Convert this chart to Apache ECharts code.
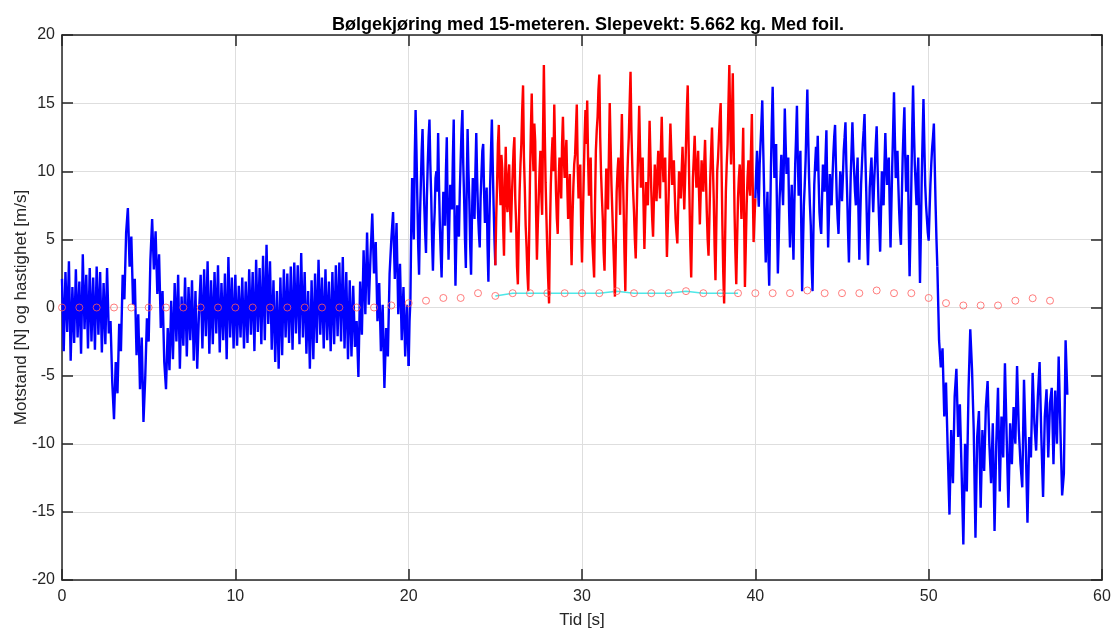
<!DOCTYPE html>
<html>
<head>
<meta charset="utf-8">
<script src="https://cdn.jsdelivr.net/npm/echarts@6/dist/echarts.min.js"></script>
<style>
  html, body { margin: 0; padding: 0; background: #fff; }
  #chart { width: 1113px; height: 631px; }
</style>
</head>
<body>
<div id="chart"></div>
<script>
// sample steps (s)
var slowStep = 0.1;
var fastStep = 0.05;

// motstand t = 0 .. 20 s (0.1 s)
var forceCalm = [
  2.1,-3.2,2.6,-1.8,3.4,-3.9,1.5,-2.6,2.8,-2.2,
  1.9,-3.4,3.9,-1.6,2.4,-3.0,2.9,-2.5,2.2,-3.1,
  3.0,-2.0,2.6,-3.3,1.8,-2.7,2.9,-1.9,-1.0,-5.5,
  -8.2,-4.0,-6.3,-1.2,-3.2,2.4,0.6,5.5,7.3,3.0,
  5.2,0.2,2.1,-3.5,-0.5,-6.0,-2.2,-8.4,-5.2,-0.8,
  -2.5,3.5,6.5,2.8,5.6,1.0,3.9,-1.5,1.2,-4.0,
  -6.0,-1.5,-4.6,0.5,-3.8,1.8,-2.5,2.4,-4.5,0.8,
  -2.8,2.2,-3.6,1.5,-2.4,2.0,-3.9,1.2,-4.5,-0.5,
  2.4,-3.0,2.8,-2.1,3.4,-3.4,2.0,-2.7,2.6,-1.9,
  3.1,-3.3,1.8,-2.4,2.5,-3.8,3.7,-2.2,2.2,-3.0,
  2.4,-2.8,1.6,-2.2,2.2,-3.0,1.9,-2.6,2.8,-2.0,
  2.6,-3.2,3.5,-1.8,2.9,-2.7,3.8,-2.4,4.6,-1.2,
  3.4,-3.1,2.0,-4.0,1.2,-4.5,2.2,-3.5,2.8,-2.2,
  2.5,-2.6,3.0,-3.1,3.3,-1.9,3.1,-2.7,4.0,-2.2,
  2.6,-3.4,1.2,-4.5,2.0,-3.8,2.5,-2.6,3.5,-2.0,
  2.2,-3.0,2.8,-2.4,1.9,-3.2,2.6,-2.7,3.1,-2.1,
  3.3,-2.5,3.7,-3.0,2.6,-3.8,2.0,-3.6,1.6,-2.9,
  -1.0,-5.1,1.9,-2.0,4.2,-0.5,5.5,0.2,3.8,6.9,
  2.5,4.8,-1.0,1.8,-3.2,0.2,-5.9,-1.5,-3.6,2.5,
  5.0,7.0,2.1,6.2,-0.5,3.2,-2.4,1.5,-3.6,0.2,
  -4.3
];

// motstand t = 20 .. 25 s (0.05 s), blue
var forceWaveIn = [
  -4.3,-1.0,0.5,6.0,9.5,7.0,5.0,11.0,14.5,11.5,
  8.0,4.5,2.4,6.5,9.0,11.5,13.1,10.0,7.5,5.5,
  4.0,8.0,10.5,12.5,13.8,10.5,8.2,5.0,2.7,5.5,
  7.0,9.5,10.0,8.5,12.8,9.0,6.0,4.0,2.2,5.5,
  8.5,7.0,6.0,10.0,12.5,7.0,3.5,6.5,9.0,8.0,
  7.2,11.0,13.8,6.0,1.6,5.0,7.5,6.0,5.2,8.5,
  10.8,13.0,14.5,10.5,8.0,5.0,2.9,9.0,13.1,10.0,
  7.8,4.5,2.4,6.5,9.5,8.0,6.5,10.0,12.8,9.5,
  7.0,5.5,4.4,8.0,9.8,11.5,12.0,8.5,6.2,7.5,
  8.8,4.5,1.9,6.0,9.0,11.5,13.8,10.5,7.5,5.0,
  3.1
];

// motstand t = 25 .. 40 s (0.05 s), red
var forceRed = [
  3.1,6.5,9.0,12.0,13.4,9.5,7.5,11.2,10.2,6.0,
  3.8,8.5,11.8,8.0,7.0,9.5,10.5,7.2,5.5,8.0,
  9.8,11.5,12.5,8.0,6.2,3.0,1.7,5.5,8.5,10.5,
  12.0,14.5,16.3,11.0,8.8,6.0,4.5,2.5,1.2,5.0,
  9.5,13.0,15.7,12.0,10.0,13.5,12.2,7.0,3.5,6.0,
  8.0,10.0,11.5,8.5,6.8,12.5,17.8,13.0,9.2,6.5,
  4.0,2.0,0.3,5.5,9.0,11.0,12.5,10.0,14.9,11.5,
  8.5,6.5,5.4,9.0,11.0,9.5,8.0,12.0,14.0,11.0,
  9.5,11.0,12.3,9.0,6.5,8.5,9.8,6.0,3.1,6.5,
  8.8,10.5,11.2,13.0,14.9,10.5,8.0,9.0,10.5,6.0,
  3.3,6.5,9.5,12.5,14.5,12.0,15.2,11.0,8.2,9.5,
  11.0,7.0,4.8,3.5,2.2,7.5,11.5,13.0,14.0,16.0,
  17.1,12.5,9.8,8.0,6.5,4.0,2.7,7.0,10.2,8.5,
  7.2,11.0,15.0,12.0,9.0,7.0,5.0,3.0,0.8,4.5,
  8.5,10.0,11.0,9.0,6.8,11.0,14.2,10.5,7.5,4.0,
  1.2,5.5,9.0,11.0,12.5,15.0,17.3,13.0,10.5,8.5,
  7.0,5.0,3.6,6.5,9.5,12.0,14.8,11.5,8.8,10.0,
  11.0,7.5,4.3,7.0,9.2,8.0,7.5,10.5,13.7,11.0,
  8.5,6.5,5.2,8.0,10.5,9.0,7.8,10.0,11.5,9.5,
  8.0,11.5,14.0,11.0,9.2,10.5,11.0,7.0,3.7,6.0,
  8.2,11.0,13.5,11.5,9.0,10.0,10.8,8.5,6.5,5.5,
  4.7,7.5,10.0,9.0,8.0,10.0,11.8,9.5,7.2,9.5,
  12.0,14.5,16.3,12.0,8.0,4.5,2.2,6.0,9.5,11.0,
  12.6,10.5,8.8,10.0,11.5,8.5,6.1,8.5,10.8,9.5,
  8.5,10.5,12.3,9.5,7.0,5.0,3.8,6.5,9.5,11.5,
  13.2,10.5,8.0,4.5,2.0,6.0,10.0,11.0,12.5,14.0,
  15.0,10.5,6.0,2.5,0.3,4.5,8.5,10.5,12.0,15.0,
  17.8,13.5,10.5,14.0,17.2,12.0,7.0,4.0,1.7,5.0,
  8.0,9.5,10.5,8.5,6.5,10.0,13.2,7.0,1.5,4.5,
  7.5,9.5,10.8,9.0,8.2,11.5,14.2,9.0,4.8,6.5,
  8.0
];

// motstand t = 40 .. 50.5 s (0.05 s), blue
var forceWaveOut = [
  8.0,10.0,11.5,9.0,7.4,10.5,12.0,13.5,15.2,12.0,
  9.0,6.0,3.3,6.5,8.5,4.0,1.6,6.0,10.2,13.5,
  16.2,12.5,9.5,11.0,12.0,7.0,2.5,5.0,8.0,9.5,
  11.2,9.0,7.5,11.0,14.6,12.0,9.8,10.5,11.0,7.0,
  4.4,7.0,9.0,6.0,3.5,7.5,10.5,12.5,14.8,11.0,
  8.2,10.0,11.5,6.0,1.2,4.5,7.5,9.0,10.8,13.5,
  16.0,12.5,9.5,7.5,6.0,3.0,1.2,5.5,9.0,10.5,
  11.8,10.0,12.6,9.5,7.0,6.0,5.4,8.0,10.5,9.0,
  8.5,11.0,13.0,8.5,4.4,7.0,9.8,8.0,7.5,9.5,
  11.2,12.5,13.4,10.5,8.0,6.5,5.4,8.0,10.0,9.0,
  7.8,9.5,11.5,12.5,13.6,10.5,8.2,5.5,3.3,6.5,
  9.5,11.5,13.6,11.5,10.0,8.5,7.5,9.5,11.0,7.0,
  3.5,6.5,9.0,10.5,12.0,13.0,14.2,11.0,8.5,5.5,
  3.1,6.0,8.8,10.0,11.0,9.0,7.0,9.0,10.5,12.0,
  13.3,10.5,8.0,6.0,4.1,7.0,10.0,8.5,7.5,10.5,
  12.8,10.5,9.0,10.5,11.0,7.5,4.4,7.5,10.5,13.0,
  15.8,12.5,9.5,10.5,11.5,9.0,7.0,5.5,4.6,8.0,
  11.0,13.0,14.7,11.0,8.5,10.0,11.2,6.0,2.3,5.5,
  9.0,13.0,16.3,13.0,10.5,9.0,7.5,9.5,11.0,6.0,
  1.8,5.5,9.5,12.5,15.3,12.0,9.0,7.5,6.5,5.5,
  4.9,7.0,9.0,10.5,11.7,12.5,13.5,10.5,7.5,5.0,
  3.0
];

// motstand t = 50.5 .. 58 s (0.1 s), blue
var forceBack = [
  3.0,-2.4,-4.4,-3.0,-8.0,
  -5.5,-10.5,-15.2,-9.0,-12.9,-6.5,-4.5,-9.5,-7.1,-12.0,
  -17.4,-10.0,-13.5,-6.0,-1.6,-4.5,-9.0,-16.9,-9.5,-7.6,
  -14.7,-9.0,-12.0,-7.3,-5.4,-10.0,-12.9,-8.5,-16.4,-10.0,
  -5.9,-13.5,-8.0,-11.0,-4.1,-9.5,-14.7,-8.5,-11.5,-7.3,
  -10.0,-4.3,-9.0,-11.5,-13.2,-5.3,-10.0,-15.8,-9.5,-11.0,
  -4.8,-8.5,-10.5,-6.5,-4.0,-9.5,-13.9,-8.0,-6.0,-11.0,
  -7.0,-5.9,-11.5,-6.1,-10.0,-3.6,-9.0,-13.8,-12.2,-2.4,
  -6.4
];

// hastighet, one point per second
var speedTime = [];
for (var s = 0; s <= 57; s++) speedTime.push(s);
var speedValues = [
  0,0,0,0,0,0,0,0,0,0,
  0,0,0,0,0,0,0,0,0,0.15,
  0.32,0.5,0.7,0.7,1.05,0.85,1.05,1.05,1.05,1.05,
  1.05,1.05,1.2,1.05,1.05,1.05,1.2,1.05,1.05,1.05,
  1.05,1.05,1.05,1.25,1.05,1.05,1.05,1.25,1.05,1.05,
  0.7,0.32,0.15,0.15,0.15,0.5,0.68,0.5
];
// cyan line over the red part
var meanTime = [25,26,27,28,29,30,31,32,33,34,35,36,37,38,39];
var meanValues = [0.85,1.05,1.05,1.05,1.05,1.05,1.05,1.2,1.05,1.05,1.05,1.2,1.05,1.05,1.05];

var xTicks = { min: 0, max: 60, interval: 10 };
var yTicks = { min: -20, max: 20, interval: 5 };

function toPairs(t0, step, values) {
  return values.map(function (v, i) {
    return [Math.round((t0 + i * step) * 1000) / 1000, v];
  });
}
function zip(ts, vs) {
  return ts.map(function (t, i) { return [t, vs[i]]; });
}

var chart = echarts.init(document.getElementById("chart"));
var axisColor = "#262626";
var font = "'Liberation Sans', Arial, sans-serif";
var lineW = 2.4;

function forceLine(data, color, z) {
  return {
    type: "line",
    data: data,
    showSymbol: false,
    sampling: "none",
    lineStyle: { color: color, width: lineW },
    z: z
  };
}

var option = {
  animation: false,
  title: {
    text: "Bølgekjøring med 15-meteren. Slepevekt: 5.662 kg. Med foil.",
    left: 583,
    textAlign: "center",
    top: 11,
    textStyle: { fontFamily: font, fontSize: 18, fontWeight: "bold", color: "#000" }
  },
  grid: { left: 62, right: 11, top: 35, bottom: 51, containLabel: false, outerBoundsMode: "none" },
  xAxis: [
    {
      type: "value",
      min: xTicks.min, max: xTicks.max, interval: xTicks.interval,
      name: "Tid [s]",
      nameLocation: "middle",
      nameGap: 32,
      nameMoveOverlap: false,
      nameTextStyle: { fontFamily: font, fontSize: 17, color: axisColor },
      axisLine: { onZero: false, lineStyle: { color: axisColor, width: 1.5 } },
      axisTick: { inside: true, length: 11, lineStyle: { color: axisColor, width: 1.5 } },
      axisLabel: { fontFamily: font, fontSize: 16, color: axisColor, margin: 9 },
      splitLine: { show: true, lineStyle: { color: "#dedede", width: 1 } }
    },
    {
      type: "value",
      position: "top",
      min: xTicks.min, max: xTicks.max, interval: xTicks.interval,
      axisLine: { onZero: false, lineStyle: { color: axisColor, width: 1.5 } },
      axisTick: { inside: true, length: 11, lineStyle: { color: axisColor, width: 1.5 } },
      axisLabel: { show: false },
      splitLine: { show: false }
    }
  ],
  yAxis: [
    {
      type: "value",
      min: yTicks.min, max: yTicks.max, interval: yTicks.interval,
      name: "Motstand [N] og hastighet [m/s]",
      nameLocation: "middle",
      nameGap: 32,
      nameMoveOverlap: false,
      nameTextStyle: { fontFamily: font, fontSize: 17, color: axisColor },
      axisLine: { onZero: false, lineStyle: { color: axisColor, width: 1.5 } },
      axisTick: { inside: true, length: 11, lineStyle: { color: axisColor, width: 1.5 } },
      axisLabel: { fontFamily: font, fontSize: 16, color: axisColor, margin: 7 },
      splitLine: { show: true, lineStyle: { color: "#dedede", width: 1 } }
    },
    {
      type: "value",
      position: "right",
      min: yTicks.min, max: yTicks.max, interval: yTicks.interval,
      axisLine: { onZero: false, lineStyle: { color: axisColor, width: 1.5 } },
      axisTick: { inside: true, length: 11, lineStyle: { color: axisColor, width: 1.5 } },
      axisLabel: { show: false },
      splitLine: { show: false }
    }
  ],
  series: [
    forceLine(toPairs(0, slowStep, forceCalm), "#0000ff", 2),
    forceLine(toPairs(20, fastStep, forceWaveIn), "#0000ff", 2),
    forceLine(toPairs(40, fastStep, forceWaveOut), "#0000ff", 2),
    forceLine(toPairs(50.5, slowStep, forceBack), "#0000ff", 2),
    {
      type: "line",
      data: zip(meanTime, meanValues),
      showSymbol: false,
      lineStyle: { color: "#4ee8e8", width: 1.5 },
      z: 3
    },
    forceLine(toPairs(25, fastStep, forceRed), "#ff0000", 4),
    {
      type: "scatter",
      data: zip(speedTime, speedValues),
      symbol: "circle",
      symbolSize: 7,
      itemStyle: { color: "rgba(255,255,255,0)", borderColor: "#ff5c5c", borderWidth: 1 },
      z: 5
    }
  ]
};
chart.setOption(option);
</script>
</body>
</html>
